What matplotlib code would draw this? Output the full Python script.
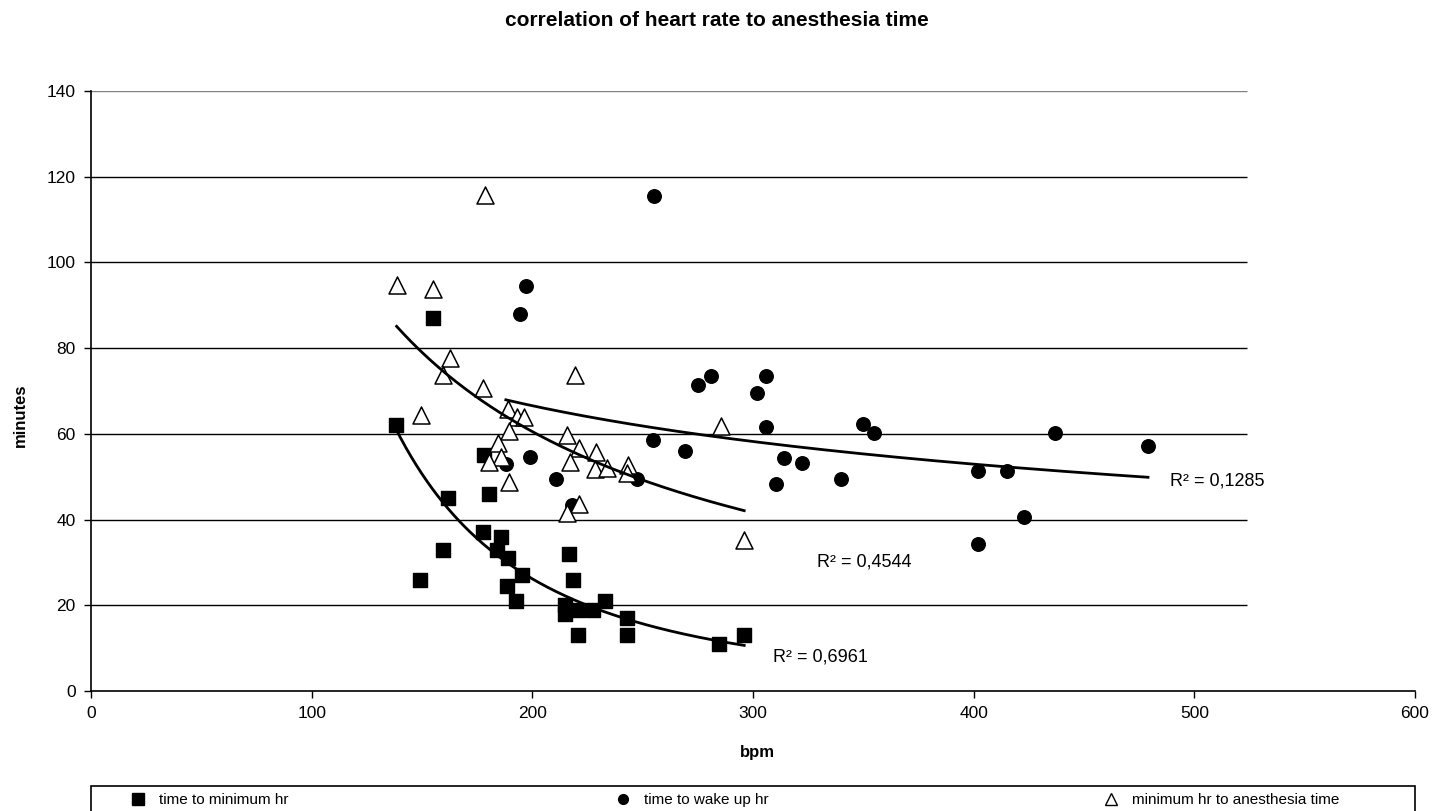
"""
Heart rate vs anesthesia time scatter with power trend lines (Excel-style chart).
"""

import matplotlib
matplotlib.use("Agg")
import matplotlib.pyplot as plt
import numpy as np
from matplotlib.lines import Line2D
from matplotlib.patches import Rectangle

plt.rcParams["font.family"] = ["Liberation Sans", "DejaVu Sans"]

# ---------------------------------------------------------------------------
# Data
# ---------------------------------------------------------------------------

TITLE = "correlation of heart rate to anesthesia time"

sq_label = "time to minimum hr"
sq_x = [138, 155, 149, 159.5, 162, 177.5, 178, 180.5, 184, 186, 189, 188.5, 192.5,
        195.5, 216.5, 218.5, 215, 215, 220.5, 220.5, 227.5, 233, 243, 243, 284.5, 296]
sq_y = [62, 87, 26, 33, 45, 37, 55, 46, 33, 36, 31, 24.5, 21,
        27, 32, 26, 20, 18, 19, 13, 19, 21, 17, 13, 11, 13]

ci_label = "time to wake up hr"
ci_x = [188, 194.5, 197, 199, 210.5, 218, 247.5, 254.5, 255, 269, 275, 281, 302, 306,
        306, 310.5, 314, 322, 340, 350, 355, 402, 402, 415, 423, 437, 479]
ci_y = [53, 88, 94.5, 54.5, 49.5, 43.5, 49.5, 58.5, 115.5, 56, 71.5, 73.5, 69.5, 73.5,
        61.5, 48.3, 54.3, 53.3, 49.4, 62.3, 60.3, 51.4, 34.2, 51.4, 40.5, 60.3, 57.2]

tr_label = "minimum hr to anesthesia time"
tr_x = [138.5, 155, 178.5, 162.5, 159.5, 177.5, 219.5, 149.5, 189, 193, 196, 189.5,
        215.5, 184.5, 221, 229, 186, 180.5, 217, 228.5, 234, 243.5, 243, 189.5, 221,
        215.5, 285.5, 296]
tr_y = [94.7, 93.8, 115.7, 77.7, 73.7, 70.7, 73.7, 64.4, 65.8, 63.9, 63.9, 60.7,
        59.7, 57.9, 56.7, 55.8, 54.6, 53.4, 53.4, 51.8, 52, 52.7, 50.9, 48.8, 43.6,
        41.5, 61.8, 35.2]

# R² text shown next to each trend line (label, x, y in data units)
r2_labels = [("R² = 0,6961", 309, 8), ("R² = 0,4544", 329, 30), ("R² = 0,1285", 489, 49)]

X_TICKS = [0, 100, 200, 300, 400, 500, 600]
Y_TICKS = [0, 20, 40, 60, 80, 100, 120, 140]
GRID_END = 524  # Excel plot area ends before the last x tick

W, H = 1434, 811


# ---------------------------------------------------------------------------
# Helpers
# ---------------------------------------------------------------------------

def power_fit(x, y, n=200):
    """Excel-style power trendline: ln y = ln a + b ln x, drawn over the data range."""
    x = np.asarray(x, float)
    y = np.asarray(y, float)
    b, ln_a = np.polyfit(np.log(x), np.log(y), 1)
    xs = np.linspace(x.min(), x.max(), n)
    return xs, np.exp(ln_a) * xs ** b


# ---------------------------------------------------------------------------
# Plot
# ---------------------------------------------------------------------------

fig = plt.figure(figsize=(W / 100, H / 100), dpi=100)
ax = fig.add_axes([91 / W, 120 / H, 1324 / W, 600 / H])

ax.set_xlim(0, 600)
ax.set_ylim(0, 140)

# gridlines
for yv in Y_TICKS[1:]:
    col = "#808080" if yv == 140 else "black"
    ax.hlines(yv, 0, GRID_END, colors=col, lw=1.0, zorder=1)

ax.scatter(sq_x, sq_y, marker="s", s=110, c="black", zorder=3)
ax.scatter(ci_x, ci_y, marker="o", s=95, c="black", zorder=3)
ax.scatter(tr_x, tr_y, marker="^", s=150, facecolors="white", edgecolors="black",
           linewidths=1.1, zorder=4)

for xs_, ys_ in [(sq_x, sq_y), (tr_x, tr_y), (ci_x, ci_y)]:
    fx, fy = power_fit(xs_, ys_)
    ax.plot(fx, fy, color="black", lw=2.0, zorder=5)

for txt, tx, ty in r2_labels:
    ax.text(tx, ty, txt, fontsize=13, ha="left", va="center", zorder=6)

ax.set_xticks(X_TICKS)
ax.set_yticks(Y_TICKS)
ax.tick_params(direction="out", length=5, width=1, labelsize=12.5, colors="black", pad=6)
for side in ["top", "right"]:
    ax.spines[side].set_visible(False)
for side in ["left", "bottom"]:
    ax.spines[side].set_linewidth(1.2)

fig.text(0.5, 1 - 21 / H, TITLE, ha="center", va="center", fontsize=15, fontweight="bold")
fig.text(20 / W, 1 - 415 / H, "minutes", rotation=90, ha="center", va="center",
         fontsize=12, fontweight="bold")
fig.text(757 / W, 1 - 752 / H, "bpm", ha="center", va="center",
         fontsize=12, fontweight="bold")

# legend: one block per series (marker row, trendline row cut off by the figure edge)
fig.add_artist(Rectangle((91 / W, -20 / H), 1324 / W, 45 / H, transform=fig.transFigure,
                         fill=False, edgecolor="black", lw=1.2))

entries = [
    (Line2D([], [], marker="s", ls="none", color="black", ms=8), sq_label, 160),
    (Line2D([], [], marker="o", ls="none", color="black", ms=7), ci_label, 645),
    (Line2D([], [], marker="^", ls="none", mfc="white", mec="black", ms=9), tr_label, 1133),
]
for handle, label, text_x in entries:
    fit_handle = Line2D([], [], color="black", lw=2)
    leg = fig.legend([handle, fit_handle], [label, f"Power ({label})"],
                     loc="upper left", bbox_to_anchor=((text_x - 33) / W, 1 - 793 / H),
                     frameon=False, fontsize=11, borderaxespad=0, borderpad=0,
                     handlelength=1.5, handletextpad=0.6, labelspacing=0.5)

fig.savefig("out.png", dpi=100)
